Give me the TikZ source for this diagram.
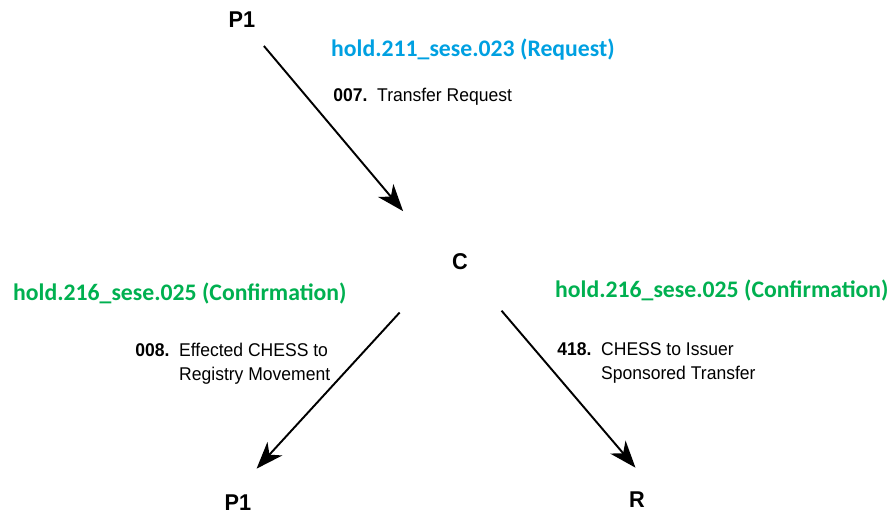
\documentclass[tikz,border=0pt]{standalone}
\usepackage{fontspec}
\setmainfont{Liberation Sans}
\newfontfamily\msgfont{Carlito}
\newfontfamily\narrowfont{Liberation Sans}[FakeStretch=0.95]
\usetikzlibrary{arrows.meta,calc}
\definecolor{ReqClr}{RGB}{0,160,225}
\definecolor{ConfClr}{RGB}{0,176,80}

\begin{document}
\begin{tikzpicture}[
  party/.style={font=\narrowfont\fontsize{13}{15}\bfseries\selectfont},
  msg/.style={anchor=west,font=\msgfont\fontsize{13.5}{16}\bfseries\selectfont},
  txn/.style={anchor=west,inner sep=0pt,font=\narrowfont\fontsize{10.5}{13.6}\selectfont},
  flow/.style={line width=1.1pt,-{Stealth[length=5.4mm,width=4mm,inset=1.6mm]}}
]
\useasboundingbox (0,0) rectangle (17.84,-10.34);

\node[party] (p1a) at (4.84,-0.40) {P1};
\node[party] (c) at (9.20,-5.24) {C};
\node[party] (p1b) at (4.76,-10.06) {P1};
\node[party] (r) at (12.74,-10.00) {R};

\draw[flow,shorten <=0.68cm,shorten >=1.33cm] (p1a.center) -- (c.west);
\draw[flow,shorten <=1.37cm,shorten >=0.55cm] (c.west) -- (p1b.north);
\draw[flow,shorten <=1.28cm,shorten >=0.48cm] (c.center) -- (r.north east);

\node[msg,text=ReqClr] (req) at (6.50,-1.00) {hold.211\_sese.023 (Request)};
\node[msg,text=ConfClr] (conf1) at (0.14,-5.86) {hold.216\_sese.025 (Confirmation)};
\node[msg,text=ConfClr] (conf2) at (10.98,-5.80) {hold.216\_sese.025 (Confirmation)};

\node[txn] (t007) at (6.66,-1.94) {\textbf{007.}\ \ Transfer Request};
\node[txn] (t008) at (2.70,-7.28) {\begin{tabular}{@{}l@{\ \ }l@{}}
  \textbf{008.} & Effected CHESS to\\ & Registry Movement\end{tabular}};
\node[txn] (t418) at (11.14,-7.26) {\begin{tabular}{@{}l@{\ \ }l@{}}
  \textbf{418.} & CHESS to Issuer\\ & Sponsored Transfer\end{tabular}};

\end{tikzpicture}
\end{document}
